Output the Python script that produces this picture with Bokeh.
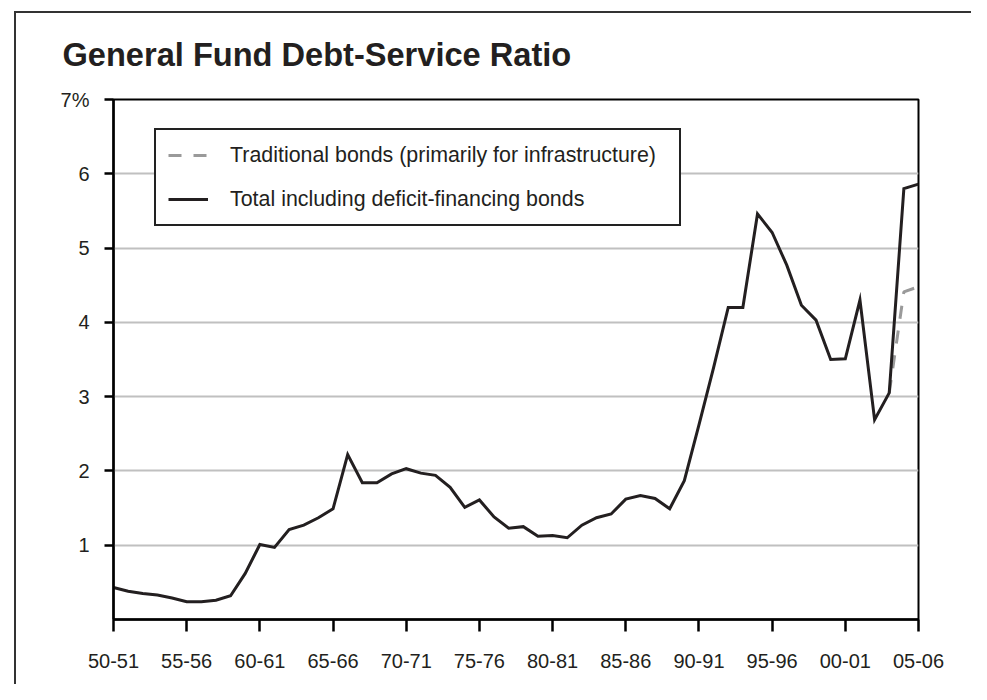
from bokeh.plotting import figure
from bokeh.models import Range1d, FixedTicker, Legend, LegendItem
from bokeh.embed import file_html
from bokeh.resources import INLINE

# ---- data ----
years = list(range(1950, 2006))  # fiscal year start: 1950 -> "50-51"
total = [0.43, 0.38, 0.35, 0.33, 0.29, 0.24, 0.24, 0.26, 0.32, 0.62,
         1.01, 0.97, 1.21, 1.27, 1.37, 1.49, 2.22, 1.84, 1.84, 1.96,
         2.03, 1.97, 1.94, 1.78, 1.51, 1.61, 1.38, 1.23, 1.25, 1.12,
         1.13, 1.10, 1.27, 1.37, 1.42, 1.62, 1.67, 1.63, 1.49, 1.87,
         2.62, 3.39, 4.20, 4.20, 5.46, 5.21, 4.77, 4.23, 4.03, 3.50,
         3.51, 4.30, 2.69, 3.05, 5.80, 5.86]
trad_years = [2003, 2004, 2005]
traditional = [3.05, 4.41, 4.48]

x_ticks = [1950, 1955, 1960, 1965, 1970, 1975, 1980, 1985, 1990, 1995, 2000, 2005]
x_tick_labels = ["50-51", "55-56", "60-61", "65-66", "70-71", "75-76",
                 "80-81", "85-86", "90-91", "95-96", "00-01", "05-06"]
y_ticks = [1, 2, 3, 4, 5, 6, 7]
y_tick_labels = ["1", "2", "3", "4", "5", "6", "7%"]

TITLE = "General Fund Debt-Service Ratio"
FONT = "Liberation Sans"
INK = "#231f20"

p = figure(width=971, height=684,
           x_range=Range1d(1950, 2005), y_range=Range1d(0, 7),
           output_backend="svg", toolbar_location=None,
           min_border_left=113, min_border_right=53,
           min_border_top=99, min_border_bottom=65,
           title=TITLE)
# outer frame: only its top and left edges fall inside the page
p.border_fill_color = None
p.background_fill_color = "white"
p.styles = {"background":
            "linear-gradient(#333333, #333333) 14px 11px / 2px 2000px no-repeat, "
            "linear-gradient(#333333, #333333) 14px 11px / 2000px 2px no-repeat, "
            "white"}

p.title.text_font = FONT
p.title.text_font_size = "32.6px"
p.title.text_font_style = "bold"
p.title.text_color = INK
p.title.align = "left"
p.title.offset = -51
p.title.standoff = 54

p.outline_line_color = "black"
p.outline_line_width = 2
p.outline_line_alpha = 1

# axes
for ax in (p.xaxis[0], p.yaxis[0]):
    ax.axis_line_color = "black"
    ax.axis_line_width = 2.5
    ax.major_tick_line_color = "black"
    ax.major_tick_line_width = 2.5
    ax.minor_tick_line_color = None
    ax.major_tick_in = 0
    ax.major_label_text_font = FONT
    ax.major_label_text_font_size = "20px"
    ax.major_label_text_color = INK

p.xaxis.ticker = FixedTicker(ticks=x_ticks)
p.xaxis.major_label_overrides = {t: l for t, l in zip(x_ticks, x_tick_labels)}
p.xaxis.major_tick_out = 12
p.xaxis.major_label_standoff = 22

p.yaxis.ticker = FixedTicker(ticks=y_ticks)
p.yaxis.major_label_overrides = {t: l for t, l in zip(y_ticks, y_tick_labels)}
p.yaxis.major_tick_out = 9
p.yaxis.major_label_standoff = 15

p.xgrid.grid_line_color = None
p.ygrid.ticker = FixedTicker(ticks=[1, 2, 3, 4, 5, 6])
p.ygrid.grid_line_color = "#c0c0c0"
p.ygrid.grid_line_width = 2

r_trad = p.line(trad_years, traditional, line_color="#9a9a9a", line_width=3,
                line_dash="13 12")
r_total = p.line(years, total, line_color=INK, line_width=3, line_join="miter")

legend = Legend(items=[
    LegendItem(label="Traditional bonds (primarily for infrastructure)", renderers=[r_trad]),
    LegendItem(label="Total including deficit-financing bonds", renderers=[r_total]),
], location=(41, 393))
legend.border_line_color = "#222222"
legend.border_line_width = 2
legend.border_line_alpha = 1
legend.background_fill_color = "white"
legend.background_fill_alpha = 1
legend.padding = 12
legend.spacing = 18
legend.margin = 0
legend.glyph_width = 40
legend.glyph_height = 26
legend.label_height = 26
legend.label_width = 437
legend.label_standoff = 22
legend.label_text_font = FONT
legend.label_text_font_size = "21.4px"
legend.label_text_color = INK
p.add_layout(legend, "center")

open("out.html", "w").write(file_html(p, INLINE))
